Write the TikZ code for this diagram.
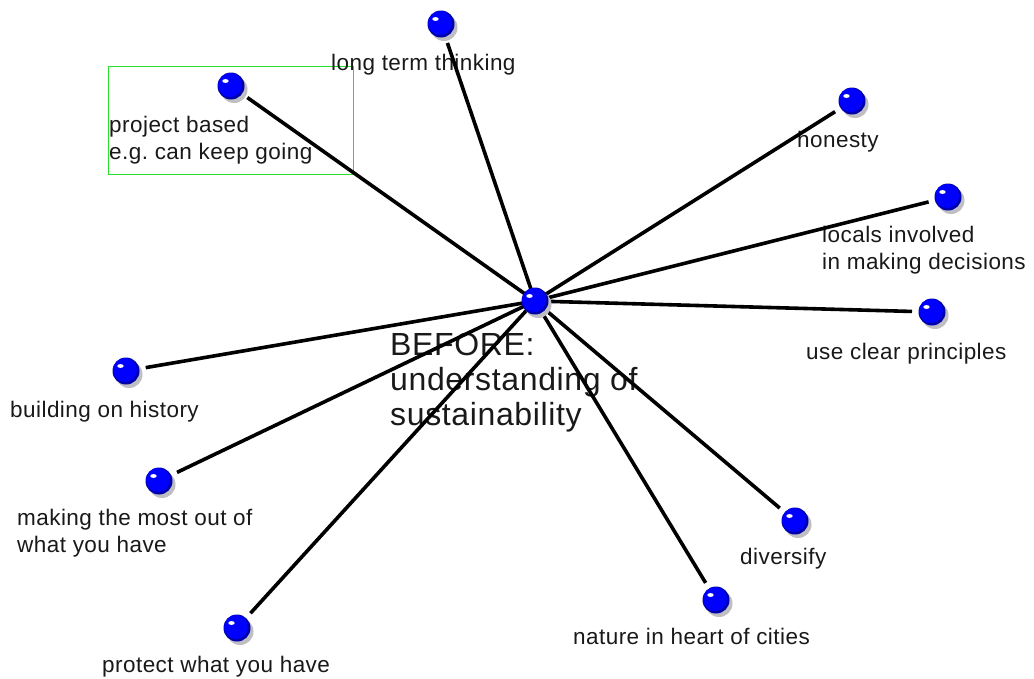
\documentclass[tikz,border=0pt]{standalone}
\usepackage{fontspec}
\setmainfont{Liberation Sans}[LetterSpace=2]
\definecolor{boxgreen}{RGB}{40,225,40}
\definecolor{ballblue}{RGB}{0,0,255}
\definecolor{balldark}{RGB}{0,0,170}
\definecolor{shadowgray}{RGB}{190,190,195}
\tikzset{
  lab/.style={anchor=base west, align=left, inner sep=0pt, font=\fontsize{22.5}{27}\selectfont, text=black!90},
  centerlab/.style={anchor=base west, align=left, inner sep=0pt, font=\fontsize{32}{35}\selectfont, text=black!90},
  spoke/.style={line width=3.6pt, black, shorten >=20pt},
  ballnode/.style={circle, inner sep=0pt, minimum size=27pt, fill=balldark,
    preaction={fill=shadowgray, transform canvas={shift={(3pt,-3.5pt)}}},
    path picture={
      \fill[ballblue] ([xshift=-1pt,yshift=1pt]path picture bounding box.center) circle (12pt);
      \fill[white] ([xshift=-5.5pt,yshift=5pt]path picture bounding box.center) ellipse [x radius=3.2pt, y radius=1.9pt];
    }},
}
\begin{document}
\begin{tikzpicture}[x=1pt,y=-1pt]
\useasboundingbox (0,0) rectangle (1034,678);
% ball positions
\coordinate (c) at (535,301);
\coordinate (long) at (441,24);
\coordinate (proj) at (231,86);
\coordinate (hon) at (852,101);
\coordinate (loc) at (948,197);
\coordinate (use) at (932,312);
\coordinate (build) at (126,371);
\coordinate (make) at (159,481);
\coordinate (prot) at (237,628);
\coordinate (nat) at (716,600);
\coordinate (div) at (795,521);
% green box
\node[draw=boxgreen, line width=1.2pt, minimum width=245pt, minimum height=108pt, anchor=north west, inner sep=0pt] (box) at (108,66) {};
% labels (anchor = baseline of last line)
\node[lab] (tlong) at (331,70) {long term thinking};
\node[lab] (tproj) at (109,159) {project based\\e.g.\ can keep going};
\node[lab] (thon) at (797,147) {honesty};
\node[lab] (tloc) at (822,269) {locals involved\\in making decisions};
\node[lab] (tuse) at (806,359) {use clear principles};
\node[lab] (tbuild) at (10,417) {building on history};
\node[lab] (tmake) at (17,552) {making the most out of\\what you have};
\node[lab] (tprot) at (102,672) {protect what you have};
\node[lab] (tnat) at (573,644) {nature in heart of cities};
\node[lab] (tdiv) at (740,564) {diversify};
\node[centerlab] (tc) at (390,425) {BEFORE:\\understanding of\\sustainability};
% spokes
\foreach \n in {long,proj,hon,loc,use,build,make,prot,nat,div}
  \draw[spoke] (c) -- (\n);
% balls
\node[ballnode] (bc) at (c) {};
\foreach \n in {long,proj,hon,loc,use,build,make,prot,nat,div}
  \node[ballnode] (b\n) at (\n) {};
\end{tikzpicture}
\end{document}
